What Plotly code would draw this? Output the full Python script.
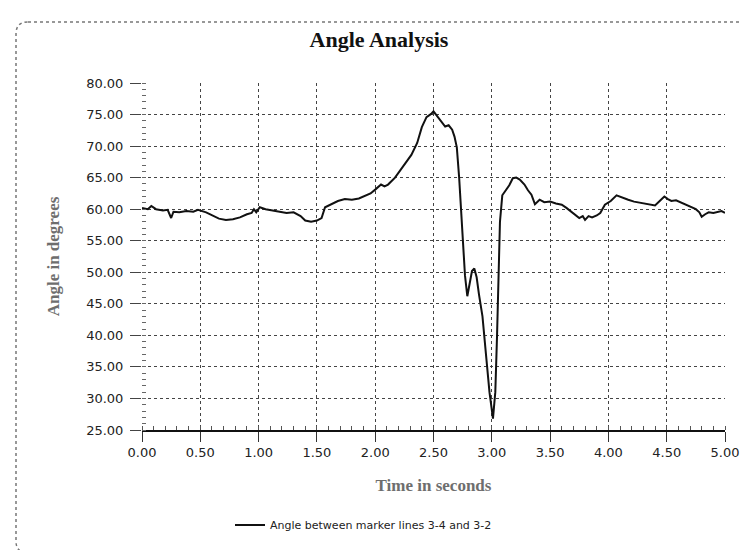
import plotly.graph_objects as go

# ---- data ----
time_s = [0.00, 0.05, 0.08, 0.12, 0.18, 0.22, 0.25, 0.27, 0.32, 0.38, 0.44, 0.48,
          0.55, 0.62, 0.66, 0.72, 0.78, 0.84, 0.90, 0.94, 0.96, 0.98, 1.01, 1.06,
          1.12, 1.18, 1.24, 1.30, 1.36, 1.40, 1.45, 1.50, 1.54, 1.57, 1.62, 1.68,
          1.74, 1.80, 1.86, 1.92, 1.96, 2.00, 2.05, 2.08, 2.11, 2.17, 2.24, 2.31,
          2.36, 2.40, 2.44, 2.48, 2.50, 2.53, 2.56, 2.60, 2.63, 2.66, 2.68, 2.70,
          2.72, 2.75, 2.77, 2.79, 2.81, 2.83, 2.85, 2.87, 2.89, 2.92, 2.95, 2.98,
          3.01, 3.03, 3.045, 3.06, 3.07, 3.09, 3.12, 3.15, 3.18, 3.21, 3.24, 3.28,
          3.31, 3.34, 3.37, 3.41, 3.45, 3.50, 3.55, 3.60, 3.64, 3.68, 3.72, 3.75,
          3.78, 3.80, 3.83, 3.86, 3.90, 3.93, 3.97, 4.02, 4.07, 4.12, 4.17, 4.22,
          4.28, 4.34, 4.40, 4.44, 4.48, 4.51, 4.54, 4.58, 4.63, 4.67, 4.71, 4.75,
          4.78, 4.80, 4.83, 4.86, 4.90, 4.94, 4.97, 5.00]
angle_deg = [60.2, 60.0, 60.5, 60.0, 59.8, 59.9, 58.6, 59.6, 59.5, 59.7, 59.6, 59.9,
             59.5, 58.8, 58.5, 58.3, 58.4, 58.7, 59.2, 59.4, 60.0, 59.5, 60.3, 60.0,
             59.8, 59.7, 59.4, 59.5, 58.9, 58.2, 58.0, 58.2, 58.6, 60.3, 60.8, 61.3,
             61.6, 61.5, 61.7, 62.2, 62.5, 63.1, 63.9, 63.6, 63.9, 65.0, 66.8, 68.6,
             70.5, 73.0, 74.6, 75.1, 75.5, 74.8, 74.0, 73.1, 73.3, 72.6, 71.5, 69.8,
             65.0, 56.0, 49.5, 46.2, 48.0, 50.2, 50.6, 49.2, 46.5, 43.0, 37.0, 31.0,
             26.8, 31.0, 40.0, 50.0, 58.0, 62.2, 63.0, 63.8, 64.9, 65.0, 64.7, 63.9,
             63.0, 62.3, 60.8, 61.5, 61.1, 61.2, 60.9, 60.7, 60.2, 59.6, 59.0, 58.6,
             58.9, 58.3, 58.9, 58.7, 59.0, 59.4, 60.7, 61.3, 62.2, 61.8, 61.5, 61.2,
             61.0, 60.9, 60.6, 61.3, 62.0, 61.6, 61.3, 61.4, 61.0, 60.7, 60.4, 60.0,
             59.5, 58.8, 59.2, 59.5, 59.4, 59.6, 59.7, 59.4]

series_name = "Angle between marker lines 3-4 and 3-2"
x_ticks = [0.0, 0.5, 1.0, 1.5, 2.0, 2.5, 3.0, 3.5, 4.0, 4.5, 5.0]
y_ticks = [25, 30, 35, 40, 45, 50, 55, 60, 65, 70, 75, 80]

# ---- layout geometry (pixels) ----
W, H = 749, 550
ML, MR, MT, MB = 134, 32, 75, 128
PW, PH = W - ML - MR, H - MT - MB

def px(xp):
    return (xp - ML) / PW

def py(yp):
    return (H - MB - yp) / PH

def rounded_rect(x0, y0, x1, y1, r):
    pts = [
        f"M {px(x0 + r)},{py(y0)}",
        f"L {px(x1 - r)},{py(y0)}",
        f"Q {px(x1)},{py(y0)} {px(x1)},{py(y0 + r)}",
        f"L {px(x1)},{py(y1 - r)}",
        f"Q {px(x1)},{py(y1)} {px(x1 - r)},{py(y1)}",
        f"L {px(x0 + r)},{py(y1)}",
        f"Q {px(x0)},{py(y1)} {px(x0)},{py(y1 - r)}",
        f"L {px(x0)},{py(y0 + r)}",
        f"Q {px(x0)},{py(y0)} {px(x0 + r)},{py(y0)}",
        "Z",
    ]
    return " ".join(pts)

fig = go.Figure()
fig.add_trace(go.Scatter(
    x=time_s, y=angle_deg, mode="lines", name=series_name,
    line=dict(color="#111111", width=2), showlegend=True,
))

tick_font = dict(family="DejaVu Sans, Verdana, sans-serif", size=13, color="#222222")
title_font = dict(family="Liberation Serif, Times New Roman, serif", size=17, color="#6e6e6e")

fig.update_layout(
    width=W, height=H,
    margin=dict(l=ML, r=MR, t=MT, b=MB, pad=0),
    paper_bgcolor="white", plot_bgcolor="white",
    title=dict(text="<b>Angle Analysis</b>", x=371 / W, xanchor="center",
               y=1 - 31 / H, yanchor="middle",
               font=dict(family="Liberation Serif, Times New Roman, serif", size=22, color="#111111")),
    showlegend=True,
    legend=dict(orientation="h", x=px(222), xanchor="left", y=py(517), yanchor="middle",
                font=dict(family="DejaVu Sans, Verdana, sans-serif", size=11, color="#222222"),
                bgcolor="rgba(0,0,0,0)", itemwidth=30),
    shapes=[dict(type="path", xref="paper", yref="paper",
                 path=rounded_rect(8, 14, 745, 545, 12),
                 line=dict(color="#777777", width=1.5, dash="dot"), layer="below")],
)

fig.update_xaxes(
    range=[0, 5], tickvals=x_ticks, ticktext=[f"{v:.2f}" for v in x_ticks],
    showgrid=True, gridcolor="#444444", griddash="dot", gridwidth=1,
    zeroline=False, showline=True, linecolor="#111111", linewidth=1.5,
    ticks="outside", ticklen=10, tickcolor="#333333", tickwidth=1,
    ticklabelstandoff=0, tickfont=tick_font,
    minor=dict(dtick=0.1, ticks="inside", ticklen=4, tickcolor="#555555", showgrid=False),
    title=dict(text="<b>Time in seconds</b>", font=title_font, standoff=20),
)
fig.update_yaxes(
    range=[25, 80], tickvals=y_ticks, ticktext=[f"{v:.2f}" for v in y_ticks],
    showgrid=True, gridcolor="#444444", griddash="dot", gridwidth=1,
    zeroline=False, showline=False,
    ticks="outside", ticklen=11, tickcolor="#444444", tickwidth=1,
    ticklabelstandoff=4, tickfont=tick_font,
    minor=dict(dtick=1, ticks="inside", ticklen=4, tickcolor="#666666", showgrid=False),
    title=dict(text="<b>Angle in degrees</b>", font=title_font, standoff=22),
)

fig.write_html("out.html")
